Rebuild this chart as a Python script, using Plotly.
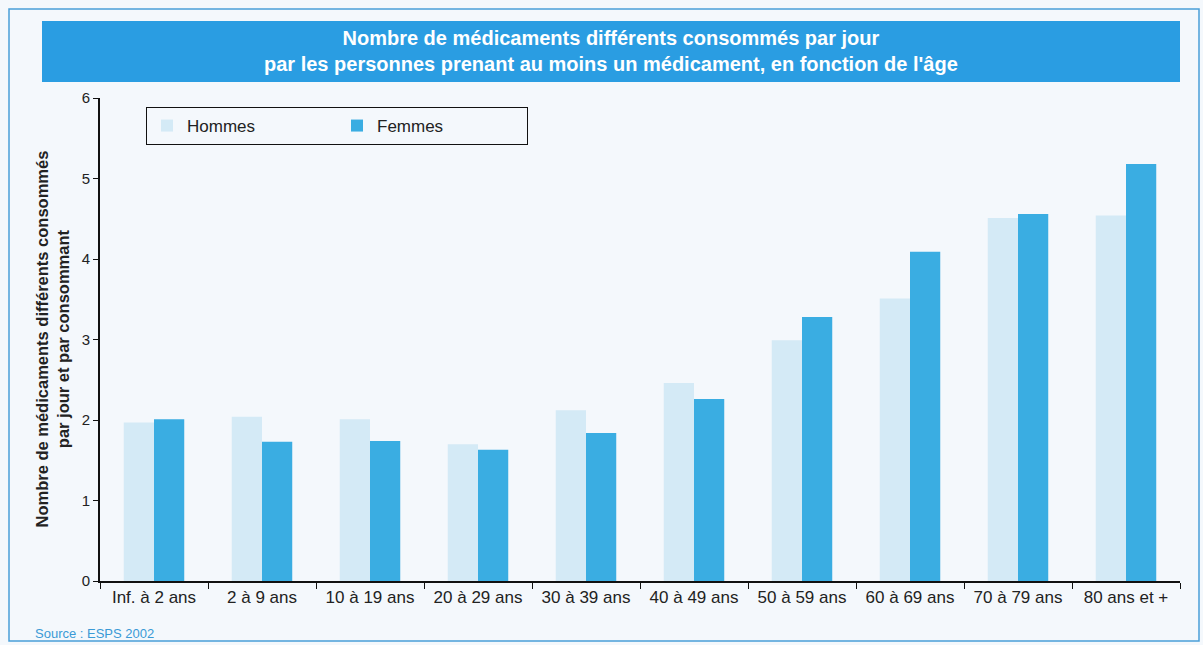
import plotly.graph_objects as go

categories = ["Inf. à 2 ans", "2 à 9 ans", "10 à 19 ans", "20 à 29 ans", "30 à 39 ans",
              "40 à 49 ans", "50 à 59 ans", "60 à 69 ans", "70 à 79 ans", "80 ans et +"]
hommes = [1.97, 2.04, 2.01, 1.70, 2.12, 2.46, 2.99, 3.51, 4.51, 4.54]
femmes = [2.01, 1.73, 1.74, 1.63, 1.84, 2.26, 3.28, 4.09, 4.56, 5.18]

title_lines = ["Nombre de médicaments différents consommés par jour",
               "par les personnes prenant au moins un médicament, en fonction de l'âge"]
y_title = "Nombre de médicaments différents consommés<br>par jour et par consommant"

W, H = 1203, 645
L, R, T, B = 100, 23, 98, 64

fig = go.Figure()
fig.add_trace(go.Bar(name="Hommes", x=categories, y=hommes, marker_color="#d4eaf6",
                     marker_line_width=0))
fig.add_trace(go.Bar(name="Femmes", x=categories, y=femmes, marker_color="#3aade2",
                     marker_line_width=0))

def px_x(x):
    return (x - L) / (W - L - R)

def px_y(y):
    return (H - B - y) / (H - T - B)

# outer frame and title banner
fig.add_shape(type="rect", xref="paper", yref="paper",
              x0=px_x(9), x1=px_x(1199), y0=px_y(641), y1=px_y(9),
              line=dict(color="#4a9fd8", width=1.5), fillcolor="rgba(0,0,0,0)", layer="below")
fig.add_shape(type="rect", xref="paper", yref="paper",
              x0=px_x(42), x1=px_x(1180), y0=px_y(82), y1=px_y(21),
              line=dict(width=0), fillcolor="#2a9de2", layer="below")
fig.add_annotation(xref="paper", yref="paper", x=px_x(611), y=px_y(51),
                   text="<b>" + title_lines[0] + "</b><br><b>" + title_lines[1] + "</b>",
                   showarrow=False, font=dict(family="Liberation Sans, Arial, sans-serif",
                                              size=20, color="white"),
                   align="center", xanchor="center", yanchor="middle")
fig.add_annotation(xref="paper", yref="paper", x=px_x(33), y=px_y(633),
                   text="Source : ESPS 2002", showarrow=False,
                   font=dict(family="Liberation Sans, sans-serif", size=13, color="#3a9ad6"),
                   xanchor="left", yanchor="middle")
fig.add_annotation(xref="paper", yref="paper", x=px_x(52), y=0.5,
                   text="<b>" + y_title + "</b>", showarrow=False, textangle=-90,
                   font=dict(family="Liberation Sans, Arial, sans-serif", size=16.5, color="#222"),
                   xanchor="center", yanchor="middle")

fig.update_layout(
    width=W, height=H,
    margin=dict(l=L, r=R, t=T, b=B),
    paper_bgcolor="#f4f8fc", plot_bgcolor="#f4f8fc",
    barmode="group", bargap=0.44, bargroupgap=0,
    font=dict(family="Liberation Sans, Arial, sans-serif", size=14, color="#222"),
    legend=dict(orientation="h", x=px_x(146), y=px_y(107), xanchor="left", yanchor="top",
                bordercolor="#111", borderwidth=1, bgcolor="#f4f8fc",
                font=dict(size=17), entrywidth=145, itemwidth=30,
                traceorder="normal"),
    showlegend=True,
)
fig.update_yaxes(range=[0, 6], dtick=1, showgrid=False, zeroline=False,
                 showline=True, linecolor="#111", linewidth=2,
                 ticks="outside", ticklen=5, tickcolor="#111",
                 tickfont=dict(size=15))
fig.update_xaxes(showgrid=False, showline=True, linecolor="#111", linewidth=2,
                 ticks="outside", ticklen=6, tickcolor="#111", tickson="boundaries",
                 tickfont=dict(size=17))

fig.write_html("out.html")
